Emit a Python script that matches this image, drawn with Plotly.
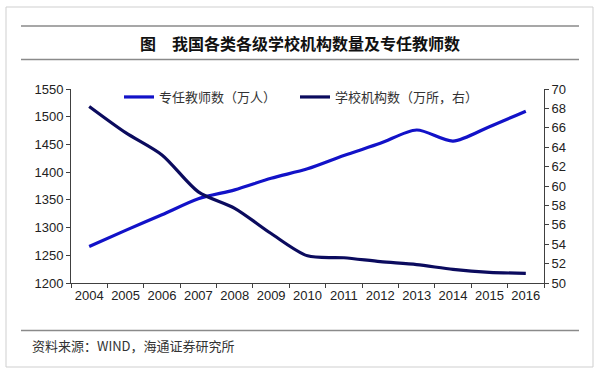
import plotly.graph_objects as go

years = ["2004", "2005", "2006", "2007", "2008", "2009", "2010",
         "2011", "2012", "2013", "2014", "2015", "2016"]
teachers = [1266, 1295, 1323, 1352, 1368, 1389, 1406, 1430, 1452, 1476, 1456, 1482, 1510]
schools = [68.2, 65.5, 63.2, 59.4, 57.7, 55.1, 52.8, 52.6, 52.2, 51.9, 51.4, 51.1, 51.0]

name_teachers = "专任教师数（万人）"
name_schools = "学校机构数（万所，右）"
title_text = "图　我国各类各级学校机构数量及专任教师数"
source_text = "资料来源：WIND，海通证券研究所"

W, H = 600, 373
L, R, T, B = 71, 544, 89, 283  # plot area in pixels

def px(x):
    return (x - L) / (R - L)

def py(y):
    return (B - y) / (B - T)

CJK = "Noto Sans CJK SC"
LAT = "Liberation Sans, Arial"

fig = go.Figure()
fig.add_trace(go.Scatter(
    x=years, y=teachers, name=name_teachers, mode="lines",
    line=dict(color="#1212c8", width=3.2, shape="spline", smoothing=0.8),
    yaxis="y"))
fig.add_trace(go.Scatter(
    x=years, y=schools, name=name_schools, mode="lines",
    line=dict(color="#0b0b5e", width=3.2, shape="spline", smoothing=0.8),
    yaxis="y2"))

axis_col = "#404040"
fig.update_layout(
    width=W, height=H,
    margin=dict(l=L, r=W - R, t=T, b=H - B, pad=0, autoexpand=False),
    paper_bgcolor="white", plot_bgcolor="white",
    font=dict(family=LAT, size=13, color="#222222"),
    xaxis=dict(type="category", range=[-0.5, 12.5], tickson="boundaries",
               ticks="outside", ticklen=4, tickcolor=axis_col, showline=True,
               linecolor=axis_col, linewidth=1, showgrid=False, tickangle=0,
               automargin=False,
               tickfont=dict(family=LAT, size=13, color="#222222")),
    yaxis=dict(range=[1200, 1550], dtick=50, ticks="outside", ticklen=4,
               tickcolor=axis_col, showline=True, linecolor=axis_col,
               linewidth=1, showgrid=False, zeroline=False, automargin=False,
               tickfont=dict(family=LAT, size=13, color="#222222")),
    yaxis2=dict(range=[50, 70], dtick=2, ticks="outside", ticklen=4,
                tickcolor=axis_col, showline=True, linecolor=axis_col,
                linewidth=1, showgrid=False, zeroline=False, automargin=False,
                overlaying="y", side="right",
                tickfont=dict(family=LAT, size=13, color="#222222")),
    showlegend=True,
    legend=dict(orientation="h", xref="container", yref="container",
                x=119 / W, y=1 - 82 / H, xanchor="left", yanchor="top",
                bgcolor="rgba(0,0,0,0)", borderwidth=0,
                entrywidth=131, entrywidthmode="pixels",
                font=dict(family=CJK, size=13, color="#333333")),
    shapes=[
        dict(type="rect", xref="paper", yref="paper",
             x0=px(6), x1=px(593), y0=py(367), y1=py(7),
             line=dict(color="#cfcfcf", width=1), layer="below"),
        dict(type="line", xref="paper", yref="paper",
             x0=px(21), x1=px(579), y0=py(26), y1=py(26),
             line=dict(color="#8a8a8a", width=1.5)),
        dict(type="line", xref="paper", yref="paper",
             x0=px(21), x1=px(579), y0=py(59.5), y1=py(59.5),
             line=dict(color="#8a8a8a", width=1.5)),
        dict(type="line", xref="paper", yref="paper",
             x0=px(21), x1=px(579), y0=py(330.5), y1=py(330.5),
             line=dict(color="#8a8a8a", width=1.5)),
    ],
    annotations=[
        dict(text=title_text, xref="paper", yref="paper",
             x=px(300), y=py(43), xanchor="center", yanchor="middle",
             showarrow=False,
             font=dict(family=CJK, size=16, color="#111111", weight="bold")),
        dict(text=source_text, xref="paper", yref="paper",
             x=px(30), y=py(345), xanchor="left", yanchor="middle",
             showarrow=False,
             font=dict(family=CJK, size=13, color="#333333")),
    ],
)

fig.write_html("out.html",
               config={"displayModeBar": False},
               post_script="document.body.style.margin='0';")
